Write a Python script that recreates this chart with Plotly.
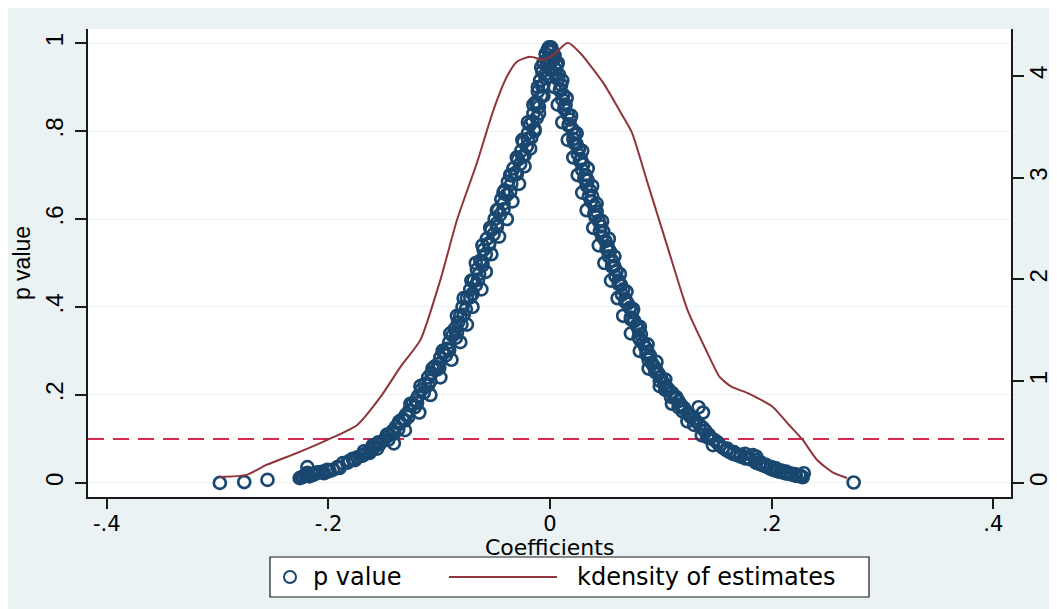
import plotly.graph_objects as go

# ---------------- data ----------------
# left branch of the p-value band
coef_left = [-0.001, -0.002, 0.000, -0.004, -0.002, -0.006, -0.003, -0.007, -0.004, -0.009,
             -0.006, -0.011, -0.008, -0.013, -0.010, -0.015, -0.012, -0.018, -0.014, -0.020,
             -0.017, -0.024, -0.021, -0.026, -0.023, -0.029, -0.027, -0.033, -0.031, -0.036,
             -0.038, -0.035, -0.041, -0.039, -0.044, -0.042, -0.047, -0.045, -0.050, -0.048,
             -0.053, -0.051, -0.057, -0.055, -0.060, -0.058, -0.063, -0.061, -0.066, -0.064,
             -0.069, -0.067, -0.072, -0.070, -0.075, -0.079, -0.076, -0.081, -0.083, -0.080,
             -0.086, -0.088, -0.085, -0.091, -0.093, -0.096, -0.094, -0.099, -0.101, -0.104,
             -0.102, -0.107, -0.110, -0.108, -0.113, -0.116, -0.114, -0.119, -0.121, -0.124,
             -0.122, -0.127, -0.130, -0.128, -0.133, -0.136, -0.139, -0.137, -0.142, -0.145,
             -0.148, -0.146, -0.151, -0.154, -0.158, -0.156, -0.162, -0.166, -0.170, -0.174,
             -0.178, -0.181, -0.187, -0.192, -0.196, -0.201, -0.205, -0.208, -0.212, -0.215,
             -0.219, -0.221, -0.223, -0.226, -0.219, -0.255, -0.276, -0.298,
             -0.001, -0.004, -0.006, -0.010, -0.014, -0.018, -0.023, -0.028, -0.034, -0.039,
             -0.046, -0.053, -0.058, -0.062, -0.070, -0.075, -0.081, -0.089, -0.099, -0.108,
             -0.118, -0.131, -0.141,
             -0.008, -0.011, -0.015, -0.020, -0.025, -0.030, -0.035, -0.042, -0.048, -0.054,
             -0.061, -0.067, -0.071, -0.078, -0.084, -0.090, -0.097, -0.106, -0.117, -0.126,
             -0.136, -0.147, -0.160,
             -0.003, -0.007, -0.011, -0.016, -0.020, -0.025, -0.030, -0.036, -0.042, -0.048,
             -0.055, -0.061, -0.065, -0.072, -0.078, -0.084, -0.091, -0.100, -0.110, -0.120,
             -0.131, -0.141,
             -0.224, -0.220, -0.217, -0.213, -0.210, -0.204, -0.199, -0.190, -0.183, -0.176,
             -0.169, -0.163, -0.168, -0.160, -0.155]
p_left = [0.990, 0.985, 0.980, 0.975, 0.965, 0.955, 0.950, 0.935, 0.930, 0.915,
          0.905, 0.890, 0.880, 0.865, 0.855, 0.840, 0.830, 0.815, 0.805, 0.795,
          0.785, 0.775, 0.765, 0.755, 0.745, 0.735, 0.725, 0.715, 0.705, 0.700,
          0.685, 0.680, 0.665, 0.655, 0.645, 0.635, 0.620, 0.610, 0.600, 0.590,
          0.575, 0.565, 0.555, 0.545, 0.530, 0.520, 0.505, 0.495, 0.485, 0.475,
          0.460, 0.450, 0.440, 0.430, 0.420, 0.400, 0.395, 0.380, 0.365, 0.360,
          0.350, 0.335, 0.330, 0.320, 0.305, 0.295, 0.290, 0.285, 0.270, 0.265,
          0.258, 0.250, 0.240, 0.232, 0.225, 0.212, 0.205, 0.198, 0.188, 0.180,
          0.172, 0.165, 0.155, 0.150, 0.145, 0.135, 0.128, 0.122, 0.118, 0.110,
          0.104, 0.098, 0.095, 0.088, 0.084, 0.078, 0.075, 0.068, 0.062, 0.058,
          0.055, 0.050, 0.045, 0.036, 0.030, 0.030, 0.026, 0.024, 0.022, 0.020,
          0.023, 0.017, 0.014, 0.011, 0.036, 0.007, 0.002, 0.000,
          0.960, 0.920, 0.880, 0.840, 0.800, 0.760, 0.720, 0.680, 0.640, 0.600,
          0.560, 0.520, 0.480, 0.440, 0.400, 0.360, 0.320, 0.280, 0.240, 0.200,
          0.160, 0.120, 0.090,
          0.945, 0.900, 0.860, 0.820, 0.780, 0.740, 0.700, 0.660, 0.620, 0.580,
          0.540, 0.500, 0.460, 0.420, 0.380, 0.340, 0.300, 0.260, 0.220, 0.180,
          0.140, 0.110, 0.085,
          0.948, 0.902, 0.862, 0.822, 0.782, 0.742, 0.702, 0.662, 0.622, 0.582,
          0.542, 0.502, 0.462, 0.422, 0.382, 0.342, 0.302, 0.262, 0.222, 0.182,
          0.142, 0.112,
          0.013, 0.018, 0.015, 0.019, 0.024, 0.022, 0.027, 0.034, 0.046, 0.052,
          0.062, 0.068, 0.072, 0.078, 0.092]

# right branch of the p-value band
coef_right = [0.001, 0.002, 0.004, 0.003, 0.006, 0.005, 0.008, 0.007, 0.010, 0.009,
              0.012, 0.011, 0.014, 0.013, 0.016, 0.018, 0.017, 0.020, 0.022, 0.021,
              0.024, 0.026, 0.025, 0.028, 0.030, 0.029, 0.032, 0.034, 0.033, 0.036,
              0.038, 0.037, 0.040, 0.042, 0.041, 0.044, 0.046, 0.048, 0.047, 0.050,
              0.052, 0.054, 0.053, 0.056, 0.058, 0.060, 0.059, 0.062, 0.064, 0.066,
              0.065, 0.068, 0.070, 0.072, 0.074, 0.073, 0.076, 0.078, 0.080, 0.082,
              0.081, 0.084, 0.086, 0.088, 0.090, 0.089, 0.092, 0.094, 0.096, 0.098,
              0.100, 0.099, 0.103, 0.105, 0.107, 0.110, 0.109, 0.113, 0.116, 0.118,
              0.121, 0.120, 0.124, 0.127, 0.130, 0.132, 0.134, 0.138, 0.135, 0.138,
              0.140, 0.143, 0.145, 0.148, 0.151, 0.153, 0.156, 0.159, 0.162, 0.165,
              0.169, 0.172, 0.176, 0.180, 0.183, 0.186, 0.189, 0.192, 0.196, 0.199,
              0.202, 0.205, 0.208, 0.211, 0.214, 0.218, 0.222, 0.226, 0.229, 0.274,
              0.007, 0.011, 0.015, 0.019, 0.024, 0.029, 0.034, 0.038, 0.042, 0.047,
              0.053, 0.058, 0.063, 0.069, 0.075, 0.081, 0.088, 0.096, 0.104, 0.114,
              0.126, 0.140, 0.151,
              0.000, 0.004, 0.007, 0.011, 0.016, 0.021, 0.025, 0.029, 0.033, 0.039,
              0.044, 0.049, 0.055, 0.061, 0.066, 0.073, 0.081, 0.089, 0.099, 0.110,
              0.124, 0.137, 0.147,
              0.005, 0.009, 0.013, 0.017, 0.022, 0.027, 0.031, 0.035, 0.040, 0.045,
              0.051, 0.056, 0.062, 0.068, 0.073, 0.080, 0.087, 0.095, 0.104, 0.116,
              0.130, 0.142,
              0.160, 0.166, 0.172, 0.178, 0.185, 0.190, 0.195, 0.200, 0.204, 0.209,
              0.213, 0.217, 0.221, 0.225, 0.228, 0.176, 0.186]
p_right = [0.990, 0.982, 0.972, 0.962, 0.950, 0.940, 0.928, 0.918, 0.905, 0.895,
           0.882, 0.872, 0.860, 0.850, 0.838, 0.826, 0.815, 0.805, 0.792, 0.782,
           0.770, 0.758, 0.748, 0.736, 0.724, 0.712, 0.700, 0.688, 0.676, 0.665,
           0.652, 0.640, 0.630, 0.617, 0.605, 0.595, 0.583, 0.572, 0.560, 0.550,
           0.538, 0.527, 0.515, 0.505, 0.493, 0.482, 0.470, 0.460, 0.450, 0.440,
           0.428, 0.418, 0.408, 0.398, 0.388, 0.376, 0.368, 0.358, 0.348, 0.338,
           0.326, 0.318, 0.308, 0.298, 0.290, 0.280, 0.272, 0.264, 0.256, 0.248,
           0.240, 0.232, 0.226, 0.218, 0.212, 0.205, 0.196, 0.192, 0.186, 0.178,
           0.170, 0.162, 0.158, 0.150, 0.146, 0.140, 0.172, 0.160, 0.132, 0.125,
           0.118, 0.110, 0.103, 0.098, 0.092, 0.086, 0.080, 0.075, 0.070, 0.066,
           0.063, 0.060, 0.056, 0.054, 0.063, 0.046, 0.043, 0.040, 0.036, 0.032,
           0.029, 0.027, 0.025, 0.023, 0.021, 0.019, 0.016, 0.015, 0.022, 0.001,
           0.955, 0.915, 0.875, 0.835, 0.795, 0.755, 0.715, 0.675, 0.635, 0.595,
           0.555, 0.515, 0.475, 0.435, 0.395, 0.355, 0.315, 0.275, 0.235, 0.195,
           0.155, 0.118, 0.092,
           0.940, 0.900, 0.860, 0.820, 0.780, 0.740, 0.700, 0.660, 0.620, 0.580,
           0.540, 0.500, 0.460, 0.420, 0.380, 0.340, 0.300, 0.260, 0.220, 0.180,
           0.140, 0.108, 0.086,
           0.930, 0.892, 0.852, 0.812, 0.772, 0.732, 0.692, 0.652, 0.612, 0.572,
           0.532, 0.492, 0.452, 0.412, 0.372, 0.332, 0.292, 0.252, 0.212, 0.172,
           0.132, 0.104,
           0.078, 0.070, 0.064, 0.058, 0.053, 0.047, 0.041, 0.036, 0.033, 0.028,
           0.026, 0.022, 0.020, 0.018, 0.013, 0.066, 0.060]

# kernel density of the estimates (right axis)
kd_x = [-0.298, -0.274, -0.256, -0.226, -0.201, -0.174, -0.153, -0.135, -0.117, -0.099,
        -0.084, -0.066, -0.051, -0.039, -0.030, -0.018, -0.006, 0.003, 0.016, 0.027,
        0.048, 0.066, 0.074, 0.088, 0.106, 0.124, 0.142, 0.153, 0.164, 0.178,
        0.201, 0.214, 0.228, 0.241, 0.256, 0.268]
kd_y = [0.059, 0.079, 0.177, 0.305, 0.423, 0.570, 0.845, 1.140, 1.406, 1.995,
        2.584, 3.145, 3.666, 3.990, 4.138, 4.187, 4.158, 4.207, 4.324, 4.226,
        3.931, 3.597, 3.440, 2.948, 2.319, 1.700, 1.278, 1.042, 0.943, 0.885,
        0.747, 0.590, 0.423, 0.226, 0.098, 0.049]

threshold = 0.1
x_ticks = [-0.4, -0.2, 0, 0.2, 0.4]
x_ticktext = ["-.4", "-.2", "0", ".2", ".4"]
y_ticks = [0, 0.2, 0.4, 0.6, 0.8, 1]
y_ticktext = ["0", ".2", ".4", ".6", ".8", "1"]
y2_ticks = [0, 1, 2, 3, 4]
y2_ticktext = ["0", "1", "2", "3", "4"]
legend_labels = ["p value", "kdensity of estimates"]
x_title = "Coefficients"
y_title = "p value"

# ---------------- styling ----------------
NAVY = "#1A476F"
MAROON = "#90353B"
BG = "#EAF2F3"
AXIS = "#1a1a1a"
HFONT = "DejaVu Sans"
VFONT = "Liberation Sans"

fig = go.Figure()
fig.add_trace(go.Scatter(
    x=coef_left + coef_right, y=p_left + p_right, mode="markers",
    name=legend_labels[0],
    marker=dict(symbol="circle-open", size=12, color=NAVY, line=dict(width=2.7, color=NAVY)),
    yaxis="y"))
fig.add_trace(go.Scatter(
    x=kd_x, y=kd_y, mode="lines", name=legend_labels[1],
    line=dict(color=MAROON, width=2, shape="spline", smoothing=0.6),
    yaxis="y2"))

W, H = 1049, 601
ML, MR, MT, MB = 80, 46, 21, 112
PW, PH = W - ML - MR, H - MT - MB


def px(xp):  # page x -> paper x
    return (xp - 8 - ML) / PW


def py(yp):  # page y -> paper y
    return (H - MB - (yp - 8)) / PH


fig.update_layout(
    width=W, height=H,
    margin=dict(l=ML, r=MR, t=MT, b=MB, autoexpand=False),
    paper_bgcolor=BG, plot_bgcolor="white",
    showlegend=False,
    xaxis=dict(range=[-0.417, 0.416], tickvals=x_ticks, ticktext=x_ticktext,
               showgrid=False, zeroline=False, showline=True, linecolor=AXIS, linewidth=1.5,
               ticks="outside", ticklen=10, tickwidth=1.5, tickcolor=AXIS, ticklabelstandoff=-3,
               tickfont=dict(family=HFONT, size=21, color="black")),
    yaxis=dict(range=[-0.032, 1.032], tickvals=y_ticks, ticktext=y_ticktext, tickangle=-90,
               showgrid=True, gridcolor=BG, gridwidth=1.2, zeroline=True, zerolinecolor=BG,
               zerolinewidth=1.2,
               showline=True, linecolor=AXIS, linewidth=1.5,
               ticks="outside", ticklen=11, tickwidth=1.5, tickcolor=AXIS, ticklabelstandoff=3,
               tickfont=dict(family=VFONT, size=24, color="black"),
               title=dict(text=y_title, font=dict(family=VFONT, size=23, color="black"),
                          standoff=4)),
    yaxis2=dict(range=[-0.138, 4.46], tickvals=y2_ticks, ticktext=y2_ticktext, tickangle=-90,
                overlaying="y", side="right", showgrid=False, zeroline=False,
                showline=True, linecolor=AXIS, linewidth=1.5,
                ticks="outside", ticklen=11, tickwidth=1.5, tickcolor=AXIS, ticklabelstandoff=-6,
                tickfont=dict(family=VFONT, size=24, color="black")),
)

# x axis title (placed as annotation for exact position)
fig.add_annotation(xref="paper", yref="paper", x=0.5, y=py(547), xanchor="center", yanchor="middle",
                   text=x_title, showarrow=False,
                   font=dict(family=HFONT, size=22, color="black"))

# reference line at p = 0.1
fig.add_shape(type="line", xref="paper", x0=0, x1=1, yref="y", y0=threshold, y1=threshold,
              line=dict(color="#D42A52", width=2, dash="16px,9px"), layer="below")

# legend drawn manually (Stata-style box)
ly = py(577)
fig.add_shape(type="rect", xref="paper", yref="paper", x0=px(270), x1=px(869), y0=py(597), y1=py(557),
              line=dict(color=AXIS, width=1.2), fillcolor="white", layer="above")
fig.add_shape(type="circle", xref="paper", yref="paper", xsizemode="pixel", ysizemode="pixel",
              xanchor=px(290), yanchor=ly, x0=-6, x1=6, y0=-6, y1=6,
              line=dict(color=NAVY, width=2), layer="above")
fig.add_shape(type="line", xref="paper", yref="paper", x0=px(449), x1=px(557), y0=ly, y1=ly,
              line=dict(color=MAROON, width=2), layer="above")
fig.add_annotation(xref="paper", yref="paper", x=px(311), y=ly, xanchor="left", yanchor="middle",
                   text=legend_labels[0], showarrow=False,
                   font=dict(family=HFONT, size=24, color="black"))
fig.add_annotation(xref="paper", yref="paper", x=px(575), y=ly, xanchor="left", yanchor="middle",
                   text=legend_labels[1], showarrow=False,
                   font=dict(family=HFONT, size=24, color="black"))

fig.write_html("out.html")
